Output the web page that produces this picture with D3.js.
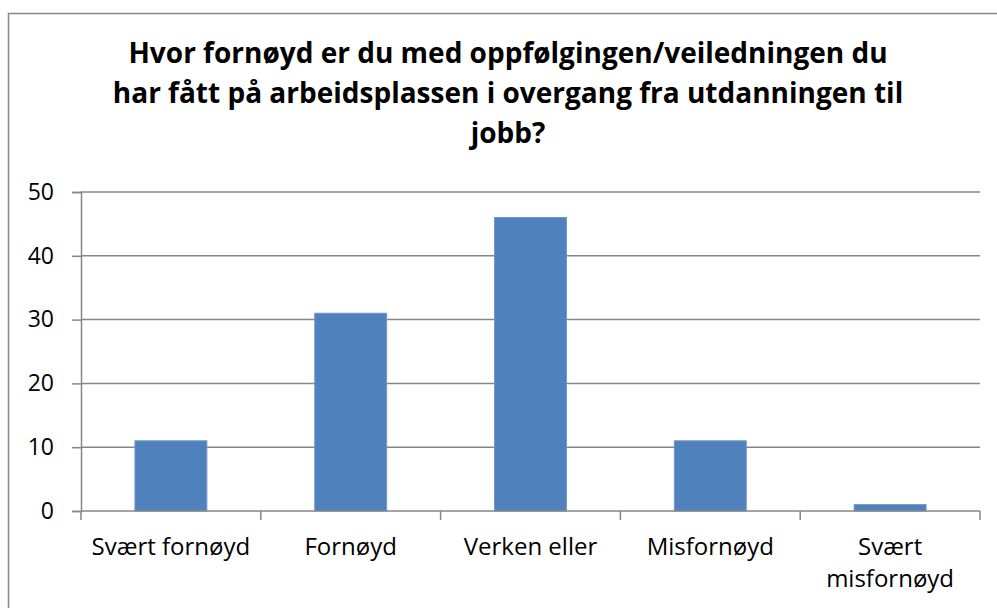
<!DOCTYPE html>
<html>
<head>
<meta charset="utf-8">
<script src="https://cdn.jsdelivr.net/npm/d3@7"></script>
<style>
  body { margin: 0; background: #fff; }
  text { font-family: "Open Sans", sans-serif; fill: #000; }
</style>
</head>
<body>
<div id="chart"></div>
<script>
// chart data
var titleLines = ["Hvor fornøyd er du med oppfølgingen/veiledningen du",
                  "har fått på arbeidsplassen i overgang fra utdanningen til",
                  "jobb?"];
var categories = ["Svært fornøyd", "Fornøyd", "Verken eller", "Misfornøyd", "Svært misfornøyd"];
var values = [11, 31, 46, 11, 1];
var yTicks = [0, 10, 20, 30, 40, 50];

var W = 997, H = 608;
var margin = {top: 192, right: 17, bottom: 97, left: 81};
var width = W - margin.left - margin.right,
    height = H - margin.top - margin.bottom;

var svg = d3.select("#chart")
  .append("svg")
  .attr("width", W)
  .attr("height", H);

// outer frame (left + top edges visible)
svg.append("path")
  .attr("d", "M8.5," + H + "V13.5H" + W)
  .attr("fill", "none")
  .attr("stroke", "#868686")
  .attr("stroke-width", 1.5);

// title
svg.append("text")
  .attr("text-anchor", "middle")
  .style("font-weight", "bold")
  .style("font-size", "28px")
  .selectAll("tspan")
  .data(titleLines)
  .enter()
  .append("tspan")
    .attr("x", 508)
    .attr("y", function(d, i) { return 63 + i * 40; })
    .text(function(d) { return d; });

var g = svg.append("g")
  .attr("transform", "translate(" + margin.left + "," + margin.top + ")");

var x = d3.scaleBand()
  .domain(categories)
  .range([0, width])
  .paddingInner(0.6)
  .paddingOuter(0.3);

var y = d3.scaleLinear()
  .domain([0, 50])
  .range([height, 0]);

// gridlines
g.append("g")
  .selectAll("line")
  .data(yTicks.slice(1))
  .enter()
  .append("line")
    .attr("x1", 0)
    .attr("x2", width)
    .attr("y1", function(d) { return y(d); })
    .attr("y2", function(d) { return y(d); })
    .attr("stroke", "#868686")
    .attr("stroke-width", 1.5);

// y axis
var yAxis = g.append("g")
  .call(d3.axisLeft(y).tickValues(yTicks).tickSize(9).tickPadding(18));
yAxis.select(".domain").attr("stroke", "#868686").attr("stroke-width", 1.5);
yAxis.selectAll(".tick line").attr("stroke", "#868686").attr("stroke-width", 1.5);
yAxis.selectAll(".tick text")
  .style("font-size", "23px")
  .attr("fill", "#000");

// bars
g.append("g")
  .selectAll("rect")
  .data(values)
  .enter()
  .append("rect")
    .attr("x", function(d, i) { return x(categories[i]); })
    .attr("y", function(d) { return y(d); })
    .attr("width", x.bandwidth())
    .attr("height", function(d) { return height - y(d); })
    .attr("fill", "#4f81bd")
    .attr("stroke", "#6f97c9")
    .attr("stroke-width", 1);

// x axis with ticks at band boundaries
var xAxis = g.append("g")
  .attr("transform", "translate(0," + height + ")");
xAxis.append("line")
  .attr("x1", 0).attr("x2", width)
  .attr("stroke", "#868686").attr("stroke-width", 1.5);
xAxis.selectAll(".xt")
  .data(d3.range(categories.length + 1))
  .enter()
  .append("line")
    .attr("class", "xt")
    .attr("x1", function(i) { return i * x.step(); })
    .attr("x2", function(i) { return i * x.step(); })
    .attr("y1", 0)
    .attr("y2", 9)
    .attr("stroke", "#868686")
    .attr("stroke-width", 1.5);

var labels = xAxis.selectAll(".xl")
  .data(categories)
  .enter()
  .append("text")
    .attr("class", "xl")
    .attr("text-anchor", "middle")
    .style("font-size", "24px")
    .attr("y", 44);

// wrap labels wider than a band
labels.each(function(d) {
  var t = d3.select(this);
  var cx = x(d) + x.bandwidth() / 2;
  t.append("tspan").attr("x", cx).text(d);
  if (this.getComputedTextLength() > x.step() * 0.95) {
    t.text(null);
    d.split(" ").forEach(function(w, i) {
      t.append("tspan").attr("x", cx).attr("dy", i ? 32 : 0).text(w);
    });
  }
});
</script>
</body>
</html>
